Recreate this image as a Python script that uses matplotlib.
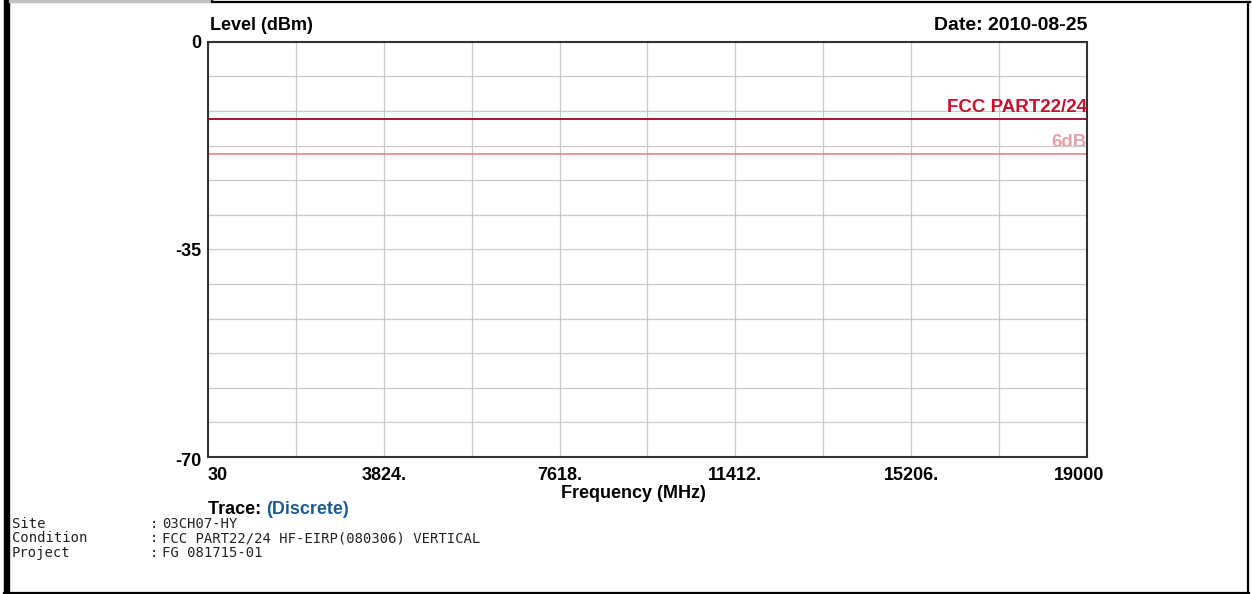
import matplotlib.pyplot as plt
import matplotlib.patches as mpatches
import matplotlib.lines as mlines
import matplotlib.transforms as mtransforms
import numpy as np

# chart values
freq_start = 30
freq_stop = 19000
level_top = 0
level_bottom = -70
x_ticks = [30, 3824, 7618, 11412, 15206, 19000]
x_tick_labels = ["30", "3824.", "7618.", "11412.", "15206.", "19000"]
y_ticks = [0, -35, -70]
y_tick_labels = ["0", "-35", "-70"]
limit_fcc = -13
limit_6db = -19
limit_names = ["FCC PART22/24", "6dB"]
info_labels = ["Site", "Condition", "Project"]
info_values = ["03CH07-HY", "FCC PART22/24 HF-EIRP(080306) VERTICAL", "FG 081715-01"]
report_date = "2010-08-25"

W, H = 1252, 594
plt.rcParams['font.family'] = ['Liberation Sans', 'DejaVu Sans']


def fx(px):
    return px / W


def fy(py):
    return 1 - py / H


fig = plt.figure(figsize=(W / 100, H / 100), dpi=100)
ax = fig.add_axes([fx(208), fy(457), fx(1087) - fx(208), fy(41.7) - fy(457)])
ax.set_xlim(freq_start, freq_stop)
ax.set_ylim(level_bottom, level_top)

# grid: 10 x 12 divisions
ax.set_xticks(np.linspace(freq_start, freq_stop, 11), minor=True)
ax.set_yticks(np.linspace(level_bottom, level_top, 13), minor=True)
ax.set_xticks(x_ticks)
ax.set_xticklabels(x_tick_labels)
ax.set_yticks(y_ticks)
ax.set_yticklabels(y_tick_labels)
ax.grid(True, which='both', color='#c8c8c8', lw=0.9)
ax.set_axisbelow(True)
ax.tick_params(which='both', length=0)
ax.tick_params(axis='x', pad=7, labelsize=13)
ax.tick_params(axis='y', pad=5, labelsize=13)
for lab in ax.get_xticklabels() + ax.get_yticklabels():
    lab.set_fontweight('bold')
ax.get_xticklabels()[0].set_ha('left')
last = ax.get_xticklabels()[-1]
last.set_transform(last.get_transform() +
                   mtransforms.ScaledTranslation(-0.08, 0, fig.dpi_scale_trans))
ylabs = ax.get_yticklabels()
ylabs[-1].set_transform(ylabs[-1].get_transform() +
                        mtransforms.ScaledTranslation(0, -0.03, fig.dpi_scale_trans))
for sp in ax.spines.values():
    sp.set_color('#333333')
    sp.set_linewidth(1.5)

# limit lines
ax.axhline(limit_fcc, color='#b01028', lw=1.4)
ax.axhline(limit_6db, color='#e07c8c', lw=1.1)
ax.text(freq_stop, limit_fcc + 0.5, limit_names[0], ha='right', va='bottom',
        color='#c8102e', fontsize=13.5, fontweight='bold')
ax.text(freq_stop, limit_6db + 0.5, limit_names[1], ha='right', va='bottom',
        color='#e8a0aa', fontsize=13.5, fontweight='bold', zorder=0.4)

ax.set_xlabel("Frequency (MHz)", fontsize=13, fontweight='bold')
ax.xaxis.set_label_coords(0.4835, -0.068)

fig.text(fx(210), fy(25), "Level (dBm)", ha='left', va='center',
         fontsize=13, fontweight='bold')
fig.text(fx(1087), fy(25), "Date: " + report_date, ha='right', va='center',
         fontsize=14, fontweight='bold')

t1 = fig.text(fx(208), fy(510), "Trace: ", ha='left', va='center',
              fontsize=13, fontweight='bold')
ax.annotate("(Discrete)", xy=(1, 0.5), xycoords=t1, ha='left', va='center',
            fontsize=13, fontweight='bold', color='#1f5b8e', annotation_clip=False)

for i, (lab, val) in enumerate(zip(info_labels, info_values)):
    y = fy(524 + 14.5 * i)
    fig.text(fx(12), y, lab, ha='left', va='center', fontsize=10,
             family='DejaVu Sans Mono', color='#222222')
    fig.text(fx(150), y, ":", ha='left', va='center', fontsize=10,
             family='DejaVu Sans Mono', color='#222222')
    fig.text(fx(162), y, val, ha='left', va='center', fontsize=10,
             family='DejaVu Sans Mono', color='#222222')

# outer frame of the report
fig.add_artist(mpatches.Rectangle((fx(4), 0), fx(5), 1, color='black',
                                  transform=fig.transFigure))
fig.add_artist(mpatches.Rectangle((fx(9), fy(2)), fx(204), fy(0) - fy(2),
                                  color='#c0c0c0', transform=fig.transFigure))
fig.add_artist(mlines.Line2D([fx(212), fx(1250)], [fy(2), fy(2)], color='black',
                             lw=1.6, transform=fig.transFigure))
fig.add_artist(mlines.Line2D([fx(212), fx(212)], [fy(0), fy(2)], color='black',
                             lw=1.2, transform=fig.transFigure))
fig.add_artist(mlines.Line2D([fx(1248), fx(1248)], [fy(2), fy(593)], color='black',
                             lw=1.6, transform=fig.transFigure))
fig.add_artist(mlines.Line2D([fx(4), fx(1249)], [fy(592.5), fy(592.5)], color='black',
                             lw=1.6, transform=fig.transFigure))

fig.savefig("out.png", dpi=100)
